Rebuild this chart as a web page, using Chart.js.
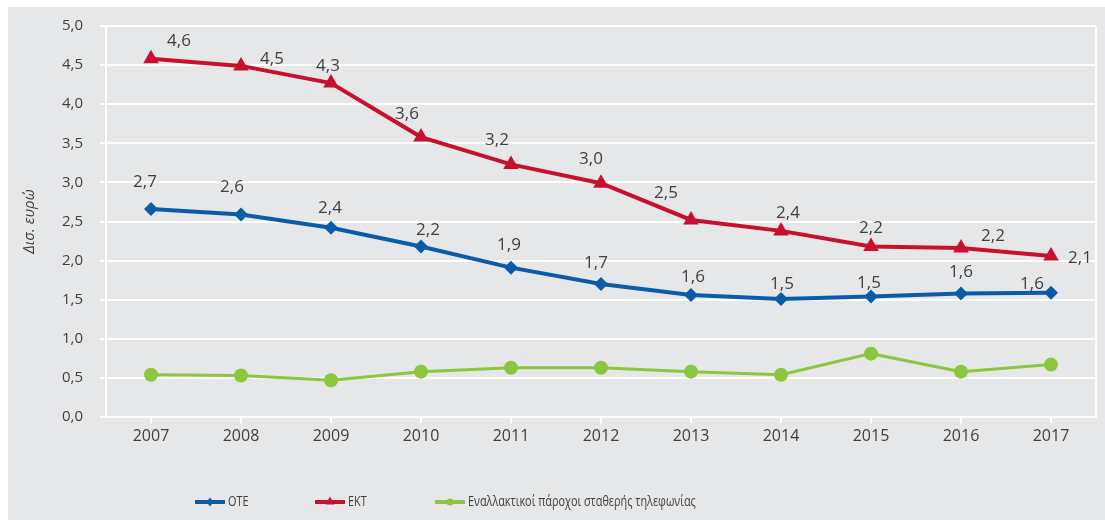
<!DOCTYPE html>
<html><head><meta charset="utf-8">
<script src="https://cdn.jsdelivr.net/npm/chart.js@4"></script>
<style>
html,body{margin:0;padding:0;background:#fff;}
#wrap{position:relative;width:1105px;height:520px;}
canvas{display:block;}
</style></head><body>
<div id="wrap"><canvas id="c" width="1105" height="520"></canvas></div>
<script>
// ---- data ----
const years = ['2007','2008','2009','2010','2011','2012','2013','2014','2015','2016','2017'];
const oteValues = [2.66, 2.59, 2.42, 2.18, 1.91, 1.70, 1.56, 1.51, 1.54, 1.58, 1.59];
const ektValues = [4.58, 4.49, 4.27, 3.58, 3.23, 2.99, 2.52, 2.38, 2.18, 2.16, 2.06];
const altValues = [0.54, 0.53, 0.47, 0.58, 0.63, 0.63, 0.58, 0.54, 0.81, 0.58, 0.67];
const seriesNames = ['ΟΤΕ', 'ΕΚΤ', 'Εναλλακτικοί πάροχοι σταθερής τηλεφωνίας'];
const yTickValues = [0, 0.5, 1, 1.5, 2, 2.5, 3, 3.5, 4, 4.5, 5];
const yTitle = 'Δισ. ευρώ';

// ---- label placement (pixel offsets from each point) ----
const oteLabelOffsets = [[-6,-27],[-9,-27],[-1,-20],[7,-16],[-2,-22],[-5,-21],[2,-18],[1,-15],[-2,-13],[0,-21],[-19,-9]];
const ektLabelOffsets = [[28,-18],[31,-7],[-3,-17],[-14,-23],[-14,-24],[-10,-24],[-25,-27],[7,-18],[0,-18],[32,-12],[29,2]];

const COL_BLUE = '#0b5ca8';
const COL_RED = '#c8102e';
const COL_GREEN = '#8cc63f';
const COL_BG = '#e6e7e9';
const COL_TEXT = '#3f3f3f';
const FONT = '"Open Sans", "Liberation Sans", sans-serif';
const fmt = v => v.toFixed(1).replace('.', ',');

const bgPlugin = {
  id: 'bg',
  beforeDraw(chart) {
    const {ctx, width, height} = chart;
    ctx.save();
    ctx.fillStyle = '#ffffff';
    ctx.fillRect(0, 0, width, height);
    ctx.fillStyle = COL_BG;
    ctx.fillRect(8, 7, width - 8, height - 7);
    ctx.restore();
  },
  afterDraw(chart) {
    const {ctx, chartArea} = chart;
    ctx.save();
    ctx.strokeStyle = '#ffffff';
    ctx.lineWidth = 2;
    ctx.beginPath();
    ctx.moveTo(chartArea.right, chartArea.top);
    ctx.lineTo(chartArea.right, chartArea.bottom);
    ctx.stroke();
    ctx.restore();
  }
};

const labelPlugin = {
  id: 'valueLabels',
  afterDatasetsDraw(chart) {
    const {ctx} = chart;
    const sets = [[0, oteLabelOffsets], [1, ektLabelOffsets]];
    ctx.save();
    ctx.font = '17px ' + FONT;
    ctx.fillStyle = COL_TEXT;
    ctx.textAlign = 'center';
    ctx.textBaseline = 'middle';
    sets.forEach(([di, offs]) => {
      const meta = chart.getDatasetMeta(di);
      const vals = chart.data.datasets[di].data;
      meta.data.forEach((pt, i) => {
        ctx.fillText(fmt(vals[i]), pt.x + offs[i][0], pt.y + offs[i][1]);
      });
    });
    ctx.restore();
  }
};

const legendPlugin = {
  id: 'customLegend',
  afterDraw(chart) {
    const {ctx} = chart;
    const y = 502;
    const startX = 195, pitch = 120, lineLen = 30, textScaleX = 0.75;
    ctx.save();
    ctx.font = '14.5px ' + FONT;
    ctx.textBaseline = 'middle';
    ctx.textAlign = 'left';
    chart.data.datasets.forEach((ds, i) => {
      const x = startX + pitch * i;
      ctx.strokeStyle = ds.borderColor;
      ctx.fillStyle = ds.borderColor;
      ctx.lineWidth = 4;
      ctx.beginPath();
      ctx.moveTo(x, y);
      ctx.lineTo(x + lineLen, y);
      ctx.stroke();
      const cx = x + lineLen / 2;
      ctx.beginPath();
      if (ds.pointStyle === 'rectRot') {
        ctx.moveTo(cx, y - 4.5); ctx.lineTo(cx + 3.5, y); ctx.lineTo(cx, y + 4.5); ctx.lineTo(cx - 3.5, y);
      } else if (ds.pointStyle === 'triangle') {
        ctx.moveTo(cx, y - 5.5); ctx.lineTo(cx + 4.5, y + 2.5); ctx.lineTo(cx - 4.5, y + 2.5);
      } else {
        ctx.arc(cx, y, 3.5, 0, Math.PI * 2);
      }
      ctx.closePath();
      ctx.fill();
      ctx.fillStyle = COL_TEXT;
      ctx.save();
      ctx.translate(x + lineLen + 3, y);
      ctx.scale(textScaleX, 1);
      ctx.fillText(ds.label, 0, 0);
      ctx.restore();
    });
    ctx.restore();
  }
};

new Chart(document.getElementById('c'), {
  type: 'line',
  data: {
    labels: years,
    datasets: [
      { label: seriesNames[0], data: oteValues, borderColor: COL_BLUE, backgroundColor: COL_BLUE,
        borderWidth: 4, pointStyle: 'rectRot', pointRadius: 7, pointBorderWidth: 0, tension: 0 },
      { label: seriesNames[1], data: ektValues, borderColor: COL_RED, backgroundColor: COL_RED,
        borderWidth: 4, pointStyle: 'triangle', pointRadius: 9, pointBorderWidth: 0, tension: 0 },
      { label: seriesNames[2], data: altValues, borderColor: COL_GREEN, backgroundColor: COL_GREEN,
        borderWidth: 3, pointStyle: 'circle', pointRadius: 7, pointBorderWidth: 0, tension: 0 }
    ]
  },
  options: {
    responsive: false,
    animation: false,
    layout: { padding: { left: 0, top: 22, right: 9, bottom: 0 } },
    plugins: { legend: { display: false }, tooltip: { enabled: false } },
    scales: {
      x: {
        type: 'category',
        offset: true,
        grid: { drawOnChartArea: false, drawTicks: true, tickLength: 6, color: '#ffffff', lineWidth: 2 },
        border: { display: true, color: '#ffffff', width: 2 },
        ticks: { color: COL_TEXT, font: { family: FONT, size: 16 }, padding: 4, maxRotation: 0 },
        afterFit(scale) { scale.height = 103; }
      },
      y: {
        min: 0, max: 5,
        afterBuildTicks(scale) { scale.ticks = yTickValues.map(v => ({ value: v })); },
        grid: { color: '#ffffff', lineWidth: 2, tickLength: 6, drawTicks: true },
        border: { display: true, color: '#ffffff', width: 2 },
        ticks: { color: COL_TEXT, font: { family: FONT, size: 15 }, padding: 17,
          callback: v => fmt(v) },
        title: { display: true, text: yTitle, color: COL_TEXT,
          font: { family: FONT, size: 15, style: 'italic' }, padding: { top: 21, bottom: 0 } },
        afterFit(scale) { scale.width = 106; }
      }
    }
  },
  plugins: [bgPlugin, labelPlugin, legendPlugin]
});
</script>
</body></html>
